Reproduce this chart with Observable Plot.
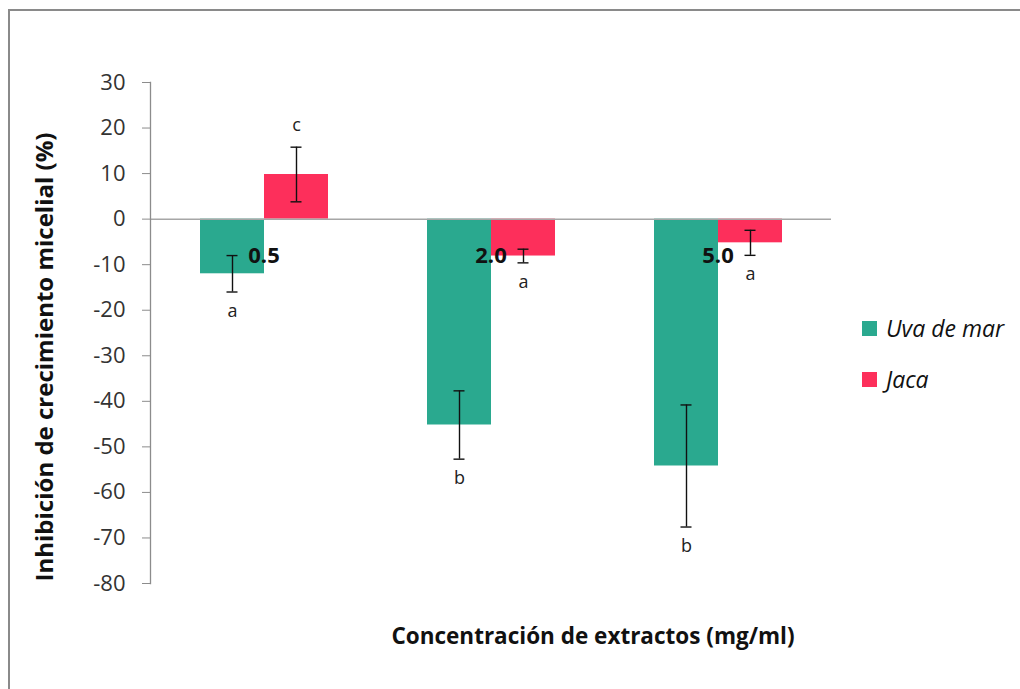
<!DOCTYPE html>
<html>
<head>
<meta charset="utf-8">
<script src="https://cdn.jsdelivr.net/npm/d3@7"></script>
<script src="https://cdn.jsdelivr.net/npm/@observablehq/plot@0.6"></script>
<style>
  body { margin: 0; background: #fff; }
  #wrap { position: relative; width: 1020px; height: 689px; overflow: hidden; font-family: "Open Sans", sans-serif; color: #111; }
  #border { position: absolute; left: 8px; top: 9px; width: 1100px; height: 800px; border-top: 2px solid #8a8a8a; border-left: 2px solid #8a8a8a; }
  #chart { position: absolute; left: 0; top: 0; }
  #ytitle { position: absolute; left: 43px; top: 357px; transform: translate(-50%, -50%) rotate(-90deg); white-space: nowrap; font-weight: bold; font-size: 24px; }
  #xtitle { position: absolute; left: 593px; top: 635px; transform: translate(-50%, -50%); white-space: nowrap; font-weight: bold; font-size: 22.5px; }
  .legend { position: absolute; left: 862px; display: flex; align-items: center; font-style: italic; font-size: 23px; line-height: 26px; }
  .legend span.sw { width: 15px; height: 15px; margin-right: 9px; display: inline-block; }
</style>
</head>
<body>
<div id="wrap">
  <div id="border"></div>
  <div id="chart"></div>
  <div id="ytitle">Inhibición de crecimiento micelial (%)</div>
  <div id="xtitle">Concentración de extractos (mg/ml)</div>
  <div id="legend"></div>
</div>
<script>
// Extract concentrations (mg/ml) and the two extracts tested
const concentrations = ["0.5", "2.0", "5.0"];
const series = ["Uva de mar", "Jaca"];
const colors = ["#2aa98f", "#fd2f5b"];

// Mean mycelial growth inhibition (%) and its error, per concentration
const uvaMean = [-12, -45.2, -54.2];
const uvaErr = [4, 7.5, 13.4];
const jacaMean = [9.8, -8.1, -5.2];
const jacaErr = [6, 1.5, 2.75];

// Significance letters
const uvaLetters = ["a", "b", "b"];
const jacaLetters = ["c", "a", "a"];

// Y axis ticks
const yTicks = [-80, -70, -60, -50, -40, -30, -20, -10, 0, 10, 20, 30];

const rows = concentrations.flatMap((c, i) => [
  {conc: c, serie: series[0], mean: uvaMean[i], err: uvaErr[i], letter: uvaLetters[i]},
  {conc: c, serie: series[1], mean: jacaMean[i], err: jacaErr[i], letter: jacaLetters[i]}
]);

const lo = d => d.mean - d.err;
const hi = d => d.mean + d.err;

const chart = Plot.plot({
  width: 1020,
  height: 689,
  marginLeft: 149,
  marginRight: 188,
  marginTop: 82,
  marginBottom: 106,
  style: {fontFamily: "'Open Sans', sans-serif", background: "transparent", color: "#111"},
  fx: {domain: concentrations, padding: 0, axis: null},
  x: {domain: series, paddingInner: 0, paddingOuter: 0.75, axis: null},
  y: {domain: [-80, 30], axis: null},
  color: {domain: series, range: colors},
  marks: [
    Plot.barY(rows, {fx: "conc", x: "serie", y: "mean", fill: "serie"}),
    Plot.ruleY([0], {stroke: "#a6a6a6", strokeWidth: 1.5}),
    Plot.frame({anchor: "left", facetAnchor: "left", stroke: "#8c8c8c", strokeWidth: 1.3}),
    // error bars
    Plot.ruleX(rows, {fx: "conc", x: "serie", y1: lo, y2: hi, stroke: "#111", strokeWidth: 1.4}),
    Plot.tickY(rows, {fx: "conc", x: "serie", y: lo, insetLeft: 26.5, insetRight: 26.5, stroke: "#111", strokeWidth: 1.4}),
    Plot.tickY(rows, {fx: "conc", x: "serie", y: hi, insetLeft: 26.5, insetRight: 26.5, stroke: "#111", strokeWidth: 1.4}),
    // significance letters beyond the error bar ends
    Plot.text(rows.filter(d => d.mean >= 0), {fx: "conc", x: "serie", y: hi, text: "letter", dy: -22, fontSize: 18, fill: "#222"}),
    Plot.text(rows.filter(d => d.mean < 0), {fx: "conc", x: "serie", y: lo, text: "letter", dy: 19, fontSize: 18, fill: "#222"}),
    // category labels just under the zero line
    Plot.text(concentrations, {fx: d => d, y: () => 0, text: d => d, dy: 37, fontSize: 22, fontWeight: "bold", fill: "#111"}),
    Plot.axisY(yTicks, {tickSize: 8, tickPadding: 17, fontSize: 22, tickFormat: d => String(d), label: null, stroke: "#8c8c8c", fill: "#333"})
  ]
});
document.getElementById("chart").appendChild(chart);

// Legend
const legend = document.getElementById("legend");
series.forEach((s, i) => {
  const row = document.createElement("div");
  row.className = "legend";
  row.style.top = (i === 0 ? 315 : 366) + "px";
  const sw = document.createElement("span");
  sw.className = "sw";
  sw.style.background = colors[i];
  row.appendChild(sw);
  row.appendChild(document.createTextNode(s));
  legend.appendChild(row);
});
</script>
</body>
</html>
